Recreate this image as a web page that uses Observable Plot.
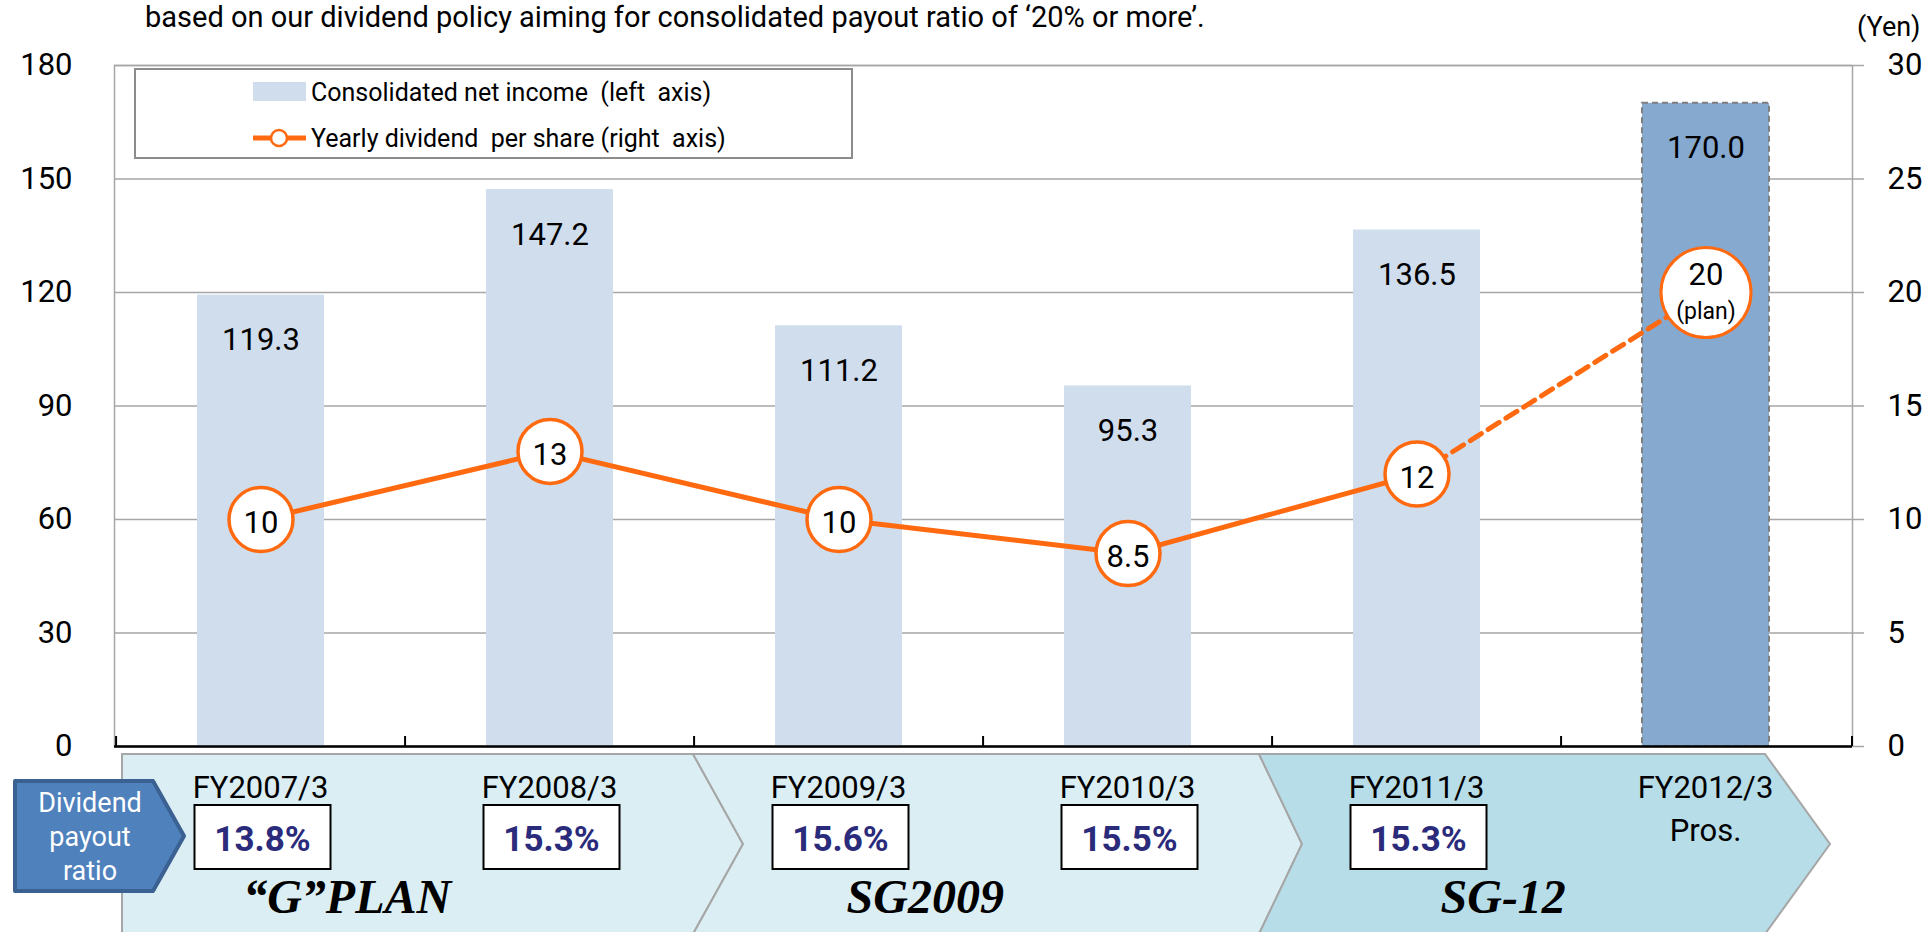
<!DOCTYPE html>
<html><head><meta charset="utf-8">
<script src="https://cdn.jsdelivr.net/npm/d3@7"></script>
<script src="https://cdn.jsdelivr.net/npm/@observablehq/plot@0.6"></script>
<style>
body{margin:0;background:#fff;}
#wrap{position:relative;width:1928px;height:932px;overflow:hidden;font-family:Roboto,sans-serif;}
#title{position:absolute;left:145px;top:0px;font-size:29px;line-height:normal;white-space:nowrap;color:#000;}
#chart{position:absolute;left:0;top:0;}
</style></head><body>
<div id="wrap"><div id="chart"></div><div id="title">based on our dividend policy aiming for consolidated payout ratio of ‘20% or more’.</div></div>
<script>
// ---- data ----
const categories = ["FY2007/3","FY2008/3","FY2009/3","FY2010/3","FY2011/3","FY2012/3"];
const netIncome = [119.3, 147.2, 111.2, 95.3, 136.5, 170.0];
const dividend = [10, 13, 10, 8.5, 12, 20];
const payoutRatio = ["13.8%","15.3%","15.6%","15.5%","15.3%", null];
const subNote = [null, null, null, null, null, "Pros."];
const phases = ["“G”PLAN", "SG2009", "SG-12"];
const phaseStart = [0, 2, 4];
const leftTicks = [0, 30, 60, 90, 120, 150, 180];
const rightTicks = [0, 5, 10, 15, 20, 25, 30];
const legendLabels = ["Consolidated net income  (left  axis)", "Yearly dividend  per share (right  axis)"];

// ---- layout / style ----
const W = 1928, H = 932, ML = 114, MR = 76, MT = 65, MB = 186;
const K = 180 / 30; // right axis (yen) -> left axis units
const ORANGE = "#FF6A10";
const rows = categories.map((c, i) => ({cat: c, income: netIncome[i], div: dividend[i], ratio: payoutRatio[i], note: subNote[i], plan: i === categories.length - 1}));
const actual = rows.filter(d => !d.plan), plan = rows.filter(d => d.plan);

const plot = Plot.plot({
  width: W, height: H, marginLeft: ML, marginRight: MR, marginTop: MT, marginBottom: MB,
  style: {fontFamily: "Roboto, sans-serif", fontSize: "31px", color: "#000", background: "transparent", overflow: "visible"},
  x: {domain: categories, paddingInner: 0.56, paddingOuter: 0.28, axis: null},
  y: {domain: [0, 180], axis: null},
  marks: [
    Plot.gridY(leftTicks, {stroke: "#A6A6A6", strokeOpacity: 1, strokeWidth: 1.5}),
    Plot.frame({stroke: "#A6A6A6", strokeWidth: 1.5}),
    Plot.axisY(leftTicks, {anchor: "left", tickSize: 0, tickPadding: 42, label: null, fontSize: 31, fill: "#000"}),
    Plot.axisY(rightTicks.map(d => d * K), {anchor: "right", tickSize: 11, tickPadding: 24, tickFormat: d => d / K, label: null, stroke: "#A6A6A6", strokeWidth: 1.5, fontSize: 31, fill: "#000"}),
    Plot.barY(actual, {x: "cat", y: "income", fill: "#CFDDEC"}),
    Plot.barY(plan, {x: "cat", y: "income", fill: "#86A9D0", stroke: "#7F7F7F", strokeWidth: 2, strokeDasharray: "6,4"}),
    Plot.ruleY([0], {stroke: "#000", strokeWidth: 2.5}),
    Plot.text(rows, {x: "cat", y: "income", text: d => d.income.toFixed(1), dy: 45, fontSize: 31, fill: "#000"}),
    Plot.line(rows.slice(0, 5), {x: "cat", y: d => d.div * K, stroke: ORANGE, strokeWidth: 5}),
    Plot.line(rows.slice(4), {x: "cat", y: d => d.div * K, stroke: ORANGE, strokeWidth: 5, strokeDasharray: "13,8"}),
    Plot.dot(actual, {x: "cat", y: d => d.div * K, r: 32, fill: "#fff", stroke: ORANGE, strokeWidth: 3.5}),
    Plot.dot(plan, {x: "cat", y: d => d.div * K, r: 45, fill: "#fff", stroke: ORANGE, strokeWidth: 3}),
    Plot.text(actual, {x: "cat", y: d => d.div * K, text: d => String(d.div), dy: 4, fontSize: 31, fill: "#000"}),
    Plot.text(plan, {x: "cat", y: d => d.div * K, text: d => String(d.div), dy: -17, fontSize: 31, fill: "#000"}),
    Plot.text(plan, {x: "cat", y: d => d.div * K, text: () => "(plan)", dy: 19, fontSize: 23, fill: "#000"})
  ]
});
document.getElementById("chart").appendChild(plot);

// ---- decorations drawn with the plot's own scales ----
const svg = d3.select(plot);
const xs = plot.scale("x");
const step = xs.step, bw = xs.bandwidth;
const cx = c => xs.apply(c) + bw / 2;
const y0 = plot.scale("y").apply(0);

// category boundary ticks on the baseline
const bounds = categories.map(c => xs.apply(c) - step * 0.28).concat([W - MR]);
svg.append("g").selectAll("line").data(bounds).join("line")
  .attr("x1", d => d).attr("x2", d => d).attr("y1", y0).attr("y2", y0 - 10)
  .attr("stroke", "#000").attr("stroke-width", 2);

// chevron bands
const bottom = svg.insert("g", ":first-child");
const T = 754, M = 844, B = 934;
const chevrons = [
  {pts: [[122,T],[693,T],[743,M],[693,B],[122,B]], fill: "#DAEEF3"},
  {pts: [[693,T],[1259,T],[1302,M],[1259,B],[693,B],[743,M]], fill: "#DAEEF3"},
  {pts: [[1259,T],[1765,T],[1830,M],[1765,B],[1259,B],[1302,M]], fill: "#B7DDE8"}
];
bottom.selectAll("path").data(chevrons).join("path")
  .attr("d", d => "M" + d.pts.map(p => p.join(",")).join("L") + "Z")
  .attr("fill", d => d.fill).attr("stroke", "#A6A6A6").attr("stroke-width", 2);

// "Dividend payout ratio" tag
const tag = svg.append("g");
tag.append("path").attr("d", "M15,781 L153,781 L184,836 L153,891 L15,891 Z")
  .attr("fill", "#4F81BD").attr("stroke", "#3B6192").attr("stroke-width", 4).attr("stroke-linejoin", "round");
tag.selectAll("text").data(["Dividend", "payout", "ratio"]).join("text")
  .attr("x", 90).attr("y", (d, i) => 812 + i * 34).attr("text-anchor", "middle")
  .attr("fill", "#fff").attr("font-size", 27).attr("font-family", "Roboto, sans-serif").text(d => d);

// category labels, payout boxes
const lab = svg.append("g").attr("font-family", "Roboto, sans-serif");
lab.selectAll("text.cat").data(rows).join("text").attr("class", "cat")
  .attr("x", d => cx(d.cat)).attr("y", 798).attr("text-anchor", "middle").attr("font-size", 31).attr("fill", "#000").text(d => d.cat);
lab.selectAll("text.note").data(rows.filter(d => d.note)).join("text").attr("class", "note")
  .attr("x", d => cx(d.cat)).attr("y", 841).attr("text-anchor", "middle").attr("font-size", 31).attr("fill", "#000").text(d => d.note);
const withRatio = rows.filter(d => d.ratio);
lab.selectAll("rect.box").data(withRatio).join("rect").attr("class", "box")
  .attr("x", d => cx(d.cat) - 66).attr("y", 805).attr("width", 136).attr("height", 64)
  .attr("fill", "#fff").attr("stroke", "#000").attr("stroke-width", 2);
lab.selectAll("text.ratio").data(withRatio).join("text").attr("class", "ratio")
  .attr("x", d => cx(d.cat) + 2).attr("y", 851).attr("text-anchor", "middle").attr("font-size", 35)
  .attr("font-weight", "bold").attr("fill", "#2B2B7B").text(d => d.ratio);

// phase names
svg.append("g").selectAll("text").data(phases).join("text")
  .attr("x", (d, i) => cx(categories[phaseStart[i]]) + step * 0.3).attr("y", 913)
  .attr("text-anchor", "middle").attr("font-family", "'Liberation Serif', 'Times New Roman', serif")
  .attr("font-style", "italic").attr("font-weight", "bold").attr("font-size", 48).attr("fill", "#000").text(d => d);

// (Yen) unit
svg.append("text").attr("x", 1857).attr("y", 36).attr("text-anchor", "start").attr("font-size", 27).attr("font-family", "Roboto, sans-serif").attr("fill", "#000").text("(Yen)");

// legend
const lg = svg.append("g").attr("font-family", "Roboto, sans-serif").attr("text-anchor", "start");
lg.append("rect").attr("x", 135).attr("y", 69).attr("width", 717).attr("height", 89).attr("fill", "#fff").attr("stroke", "#8C8C8C").attr("stroke-width", 2);
lg.append("rect").attr("x", 253).attr("y", 82).attr("width", 53).attr("height", 19).attr("fill", "#CFDDEC");
lg.append("line").attr("x1", 253).attr("x2", 306).attr("y1", 138).attr("y2", 138).attr("stroke", ORANGE).attr("stroke-width", 5);
lg.append("circle").attr("cx", 279).attr("cy", 138).attr("r", 8).attr("fill", "#fff").attr("stroke", ORANGE).attr("stroke-width", 2.5);
lg.selectAll("text").data(legendLabels).join("text")
  .attr("x", 311).attr("y", (d, i) => 101 + i * 46).attr("text-anchor", "start").attr("font-size", 25).attr("fill", "#000").text(d => d);
</script>
</body></html>
